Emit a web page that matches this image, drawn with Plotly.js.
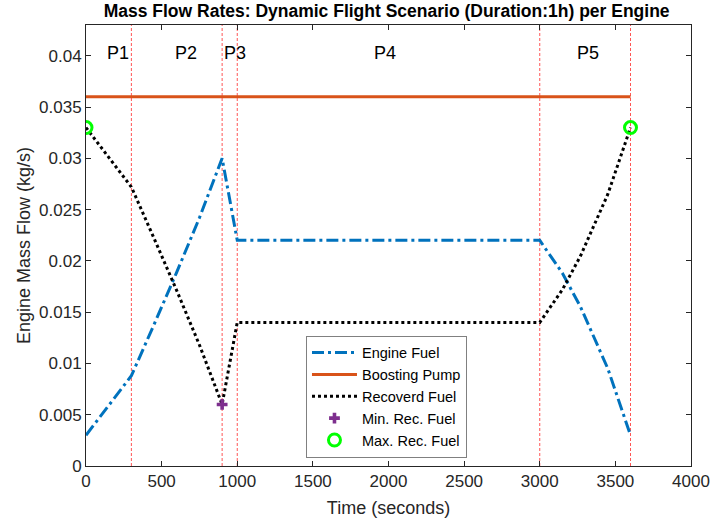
<!DOCTYPE html>
<html>
<head>
<meta charset="utf-8">
<script src="https://cdn.plot.ly/plotly-3.0.1.min.js"></script>
<style>html,body{margin:0;padding:0;background:#fff;}#chart{width:716px;height:521px;}</style>
</head>
<body>
<div id="chart"></div>
<script>
// Data
const engineTime = [0, 300, 450, 600, 750, 900, 1000, 3000, 3150, 3270, 3450, 3600];
const engineFuel = [0.003, 0.0088, 0.0138, 0.0189, 0.0242, 0.030, 0.022, 0.022, 0.0188, 0.0155, 0.0095, 0.003];
const pumpTime = [0, 3600];
const pumpFlow = [0.036, 0.036];
const recTime = [0, 300, 450, 600, 750, 900, 1000, 3000, 3150, 3270, 3450, 3600];
const recFuel = [0.033, 0.0272, 0.0222, 0.0171, 0.0118, 0.006, 0.014, 0.014, 0.0172, 0.0205, 0.0265, 0.033];
const minTime = [900];
const minFuel = [0.006];
const maxTime = [0, 3600];
const maxFuel = [0.033, 0.033];
const phaseBounds = [300, 900, 1000, 3000, 3600];
const phaseLabels = ['P1', 'P2', 'P3', 'P4', 'P5'];
const phaseLabelX = [210, 660, 985, 1975, 3320];
const phaseLabelY = 0.0403;

const FONT = 'Liberation Sans, Arial, sans-serif';
const traces = [
  {x: engineTime, y: engineFuel, type: 'scatter', mode: 'lines', name: 'Engine Fuel',
   line: {color: '#0072BD', width: 3, dash: '12px,4px,3px,4px'}},
  {x: pumpTime, y: pumpFlow, type: 'scatter', mode: 'lines', name: 'Boosting Pump',
   line: {color: '#D95319', width: 3}},
  {x: recTime, y: recFuel, type: 'scatter', mode: 'lines', name: 'Recoverd Fuel',
   line: {color: '#000000', width: 3, dash: '3px,3px'}},
  {x: minTime, y: minFuel, type: 'scatter', mode: 'markers', name: 'Min. Rec. Fuel',
   marker: {symbol: 'cross', color: '#7E2F8E', size: 9}},
  {x: maxTime, y: maxFuel, type: 'scatter', mode: 'markers', name: 'Max. Rec. Fuel',
   marker: {symbol: 'circle-open', color: '#00FF00', size: 12, line: {width: 3, color: '#00FF00'}}}
];

const shapes = phaseBounds.map(t => ({
  type: 'line', xref: 'x', yref: 'paper', x0: t, x1: t, y0: 0, y1: 1,
  line: {color: '#FF5555', width: 1, dash: '3px,2px'}, layer: 'below'
}));

const annotations = phaseLabels.map((s, i) => ({
  x: phaseLabelX[i], y: phaseLabelY, xref: 'x', yref: 'y', text: s, showarrow: false,
  font: {family: FONT, size: 18, color: '#000'}
}));

const axisCommon = {
  showline: true, mirror: 'ticks', linecolor: '#262626', linewidth: 1,
  ticks: 'inside', ticklen: 5, tickcolor: '#262626', showgrid: false, zeroline: false,
  tickfont: {family: FONT, size: 17, color: '#262626'}
};

const layout = {
  width: 716, height: 521,
  margin: {l: 86, r: 25, t: 25, b: 55},
  paper_bgcolor: '#fff', plot_bgcolor: '#fff',
  title: {text: 'Mass Flow Rates: Dynamic Flight Scenario (Duration:1h) per Engine',
          font: {family: FONT, size: 17.5, color: '#000', weight: 'bold'},
          x: 0.54, xanchor: 'center', y: 0.99, yanchor: 'top'},
  xaxis: Object.assign({}, axisCommon, {range: [0, 4000], dtick: 500, tick0: 0,
          title: {text: 'Time (seconds)', font: {family: FONT, size: 18, color: '#262626'}, standoff: 10}}),
  yaxis: Object.assign({}, axisCommon, {range: [0, 0.043], dtick: 0.005, tick0: 0,
          title: {text: 'Engine Mass Flow (kg/s)', font: {family: FONT, size: 18, color: '#262626'}, standoff: 3}}),
  showlegend: true,
  legend: {x: 0.3636, y: 0.2955, xanchor: 'left', yanchor: 'top',
           bgcolor: '#fff', bordercolor: '#808080', borderwidth: 1,
           font: {family: FONT, size: 14.5, color: '#000'}, tracegroupgap: 0, itemwidth: 45},
  shapes: shapes,
  annotations: annotations
};

Plotly.newPlot('chart', traces, layout, {displayModeBar: false, staticPlot: true});
</script>
</body>
</html>
